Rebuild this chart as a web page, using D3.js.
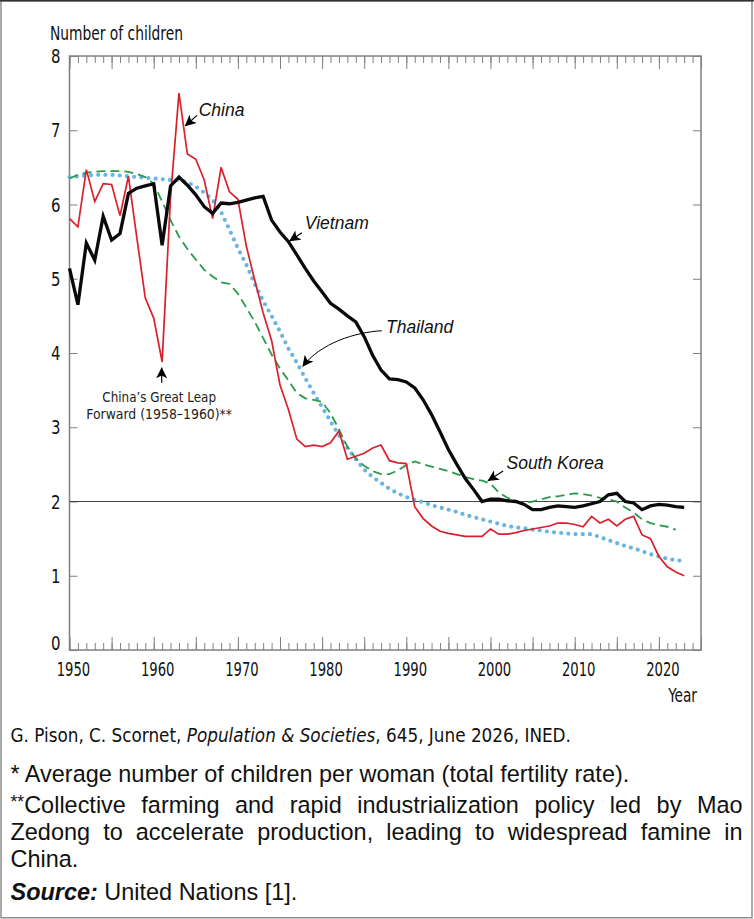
<!DOCTYPE html>
<html><head><meta charset="utf-8">
<script src="https://cdn.jsdelivr.net/npm/d3@7"></script>
<style>body{margin:0;background:#fff}svg{display:block}</style>
</head><body>
<svg id="c" width="754" height="919"></svg>
<script>
// ---- data ----
const years = d3.range(1950, 2024);            // 1950–2023
const yearsKorea = d3.range(1950, 2023);       // 1950–2022
const china = [5.81,5.70,6.47,6.04,6.28,6.27,5.85,6.38,5.55,4.74,
  4.47,3.88,6.10,7.50,6.68,6.61,6.33,5.81,6.50,6.17,
  6.07,5.44,4.98,4.54,4.17,3.57,3.24,2.84,2.74,2.76,
  2.74,2.79,2.95,2.57,2.61,2.65,2.72,2.76,2.55,2.52,
  2.51,1.93,1.77,1.67,1.60,1.57,1.55,1.53,1.53,1.53,
  1.63,1.56,1.56,1.58,1.61,1.63,1.65,1.67,1.71,1.71,
  1.69,1.66,1.80,1.71,1.76,1.67,1.76,1.80,1.55,1.50,
  1.26,1.12,1.05,1.00];
const vietnam = [5.14,4.65,5.48,5.25,5.84,5.52,5.61,6.15,6.22,6.25,
  6.28,5.45,6.25,6.37,6.26,6.13,5.97,5.88,6.02,6.01,
  6.03,6.06,6.09,6.11,5.79,5.63,5.50,5.32,5.14,4.97,
  4.82,4.67,4.59,4.50,4.42,4.22,3.97,3.77,3.65,3.64,
  3.61,3.53,3.37,3.17,2.94,2.70,2.50,2.31,2.16,2.00,
  2.03,2.03,2.01,2.00,1.96,1.89,1.89,1.92,1.94,1.93,
  1.92,1.94,1.97,2.00,2.09,2.11,2.00,1.98,1.89,1.94,
  1.96,1.95,1.93,1.92];
const thailand = [6.37,6.38,6.39,6.40,6.40,6.40,6.39,6.38,6.37,6.36,
  6.35,6.34,6.33,6.33,6.30,6.24,6.16,6.06,5.90,5.66,
  5.41,5.19,4.93,4.70,4.50,4.29,4.06,3.87,3.66,3.46,
  3.27,3.08,2.89,2.72,2.57,2.43,2.33,2.25,2.17,2.11,
  2.06,2.02,1.99,1.95,1.92,1.89,1.86,1.82,1.79,1.76,
  1.73,1.70,1.67,1.65,1.64,1.62,1.61,1.59,1.58,1.57,
  1.56,1.56,1.56,1.52,1.48,1.44,1.40,1.37,1.33,1.29,
  1.26,1.23,1.21,1.20];
const southKorea = [6.35,6.40,6.43,6.44,6.45,6.45,6.45,6.44,6.41,6.37,
  6.28,6.04,5.79,5.57,5.40,5.26,5.12,5.03,4.95,4.93,
  4.80,4.61,4.42,4.20,3.98,3.79,3.63,3.46,3.39,3.37,
  3.34,3.19,2.97,2.74,2.58,2.48,2.41,2.37,2.37,2.42,
  2.49,2.54,2.50,2.47,2.44,2.41,2.37,2.33,2.30,2.28,
  2.24,2.12,2.05,2.01,1.98,2.00,2.03,2.06,2.07,2.09,
  2.11,2.10,2.08,2.05,2.03,2.00,1.92,1.85,1.76,1.71,
  1.68,1.66,1.62];
const yTicks = [0,1,2,3,4,5,6,7,8];
const xLabels = [1950,1960,1970,1980,1990,2000,2010,2020];
const replacementLevel = 2;

// ---- setup ----
const svg = d3.select('#c');
const x = d3.scaleLinear().domain([1950, 2025]).range([69.5, 701]);
const y = d3.scaleLinear().domain([0, 8]).range([650, 56]);
const axisColor = '#808080';
const condensed = "'Liberation Sans Narrow','DejaVu Sans Condensed',sans-serif";
const sans = "'Liberation Sans','Noto Sans',sans-serif";

// horizontally compress a text element to a target width around an origin x
function squeeze(sel, target, ox) {
  const w = sel.node().getBBox().width;
  const k = target / w;
  sel.attr('transform', `translate(${ox},0) scale(${k},1) translate(${-ox},0)`);
}

// outer frame
svg.append('rect').attr('x', 1).attr('y', 0.75).attr('width', 751).attr('height', 917)
  .attr('fill', 'none').attr('stroke', '#8e8e8e').attr('stroke-width', 1.5);
svg.append('line').attr('x1', 0).attr('x2', 754).attr('y1', 0.75).attr('y2', 0.75)
  .attr('stroke', '#333').attr('stroke-width', 1.5);

// markers
const defs = svg.append('defs');
defs.append('marker').attr('id', 'ah').attr('viewBox', '0 0 10 10')
  .attr('refX', 9.5).attr('refY', 5).attr('markerUnits', 'userSpaceOnUse')
  .attr('markerWidth', 14).attr('markerHeight', 11).attr('orient', 'auto')
  .append('path').attr('d', 'M0,0 L10,5 L0,10 L2.5,5 Z').attr('fill', '#000');

// axes / ticks
const minorYears = d3.range(1950, 2026);
const majorYears = minorYears.filter(v => v % 5 === 0);
function clean(g) {
  g.select('.domain').remove();
  g.selectAll('.tick text').remove();
  g.selectAll('.tick line').attr('stroke', axisColor).attr('stroke-width', 1);
}
svg.append('g').attr('transform', `translate(0,${y(0)})`)
  .call(d3.axisTop(x).tickValues(minorYears).tickSize(7)).call(clean);
svg.append('g').attr('transform', `translate(0,${y(0)})`)
  .call(d3.axisTop(x).tickValues(majorYears).tickSize(13)).call(clean);
svg.append('g').attr('transform', `translate(0,${y(8)})`)
  .call(d3.axisBottom(x).tickValues(minorYears).tickSize(7)).call(clean);
svg.append('g').attr('transform', `translate(0,${y(8)})`)
  .call(d3.axisBottom(x).tickValues(majorYears).tickSize(13)).call(clean);
svg.append('g').attr('transform', `translate(${x(1950)},0)`)
  .call(d3.axisRight(y).tickValues(yTicks).tickSize(8)).call(clean);
svg.append('g').attr('transform', `translate(${x(2025)},0)`)
  .call(d3.axisLeft(y).tickValues(yTicks).tickSize(8)).call(clean);

// plot frame
svg.append('rect').attr('x', x(1950)).attr('y', y(8))
  .attr('width', x(2025) - x(1950)).attr('height', y(0) - y(8))
  .attr('fill', 'none').attr('stroke', axisColor).attr('stroke-width', 1.5);

// tick labels
svg.append('g').selectAll('text').data(yTicks).join('text')
  .attr('x', x(1950) - 9).attr('y', d => y(d))
  .attr('dy', d => d === 0 ? '0em' : '0.36em')
  .attr('text-anchor', 'end').attr('font-family', condensed).attr('font-size', 20)
  .attr('fill', '#111').text(d => d)
  .each(function () { squeeze(d3.select(this), 9.5, x(1950) - 9); });
svg.append('g').selectAll('text').data(xLabels).join('text')
  .attr('x', d => x(d) + 4).attr('y', y(0) + 26.5)
  .attr('text-anchor', 'middle').attr('font-family', condensed).attr('font-size', 20)
  .attr('fill', '#111').text(d => d)
  .each(function (d) { squeeze(d3.select(this), 33.5, x(d) + 4); });
const yearLbl = svg.append('text').attr('x', 697).attr('y', 702).attr('text-anchor', 'end')
  .attr('font-family', condensed).attr('font-size', 20).attr('fill', '#111').text('Year');
squeeze(yearLbl, 30, 697);
const yLbl = svg.append('text').attr('x', 50).attr('y', 40)
  .attr('font-family', condensed).attr('font-size', 19.5).attr('fill', '#111').text('Number of children');
squeeze(yLbl, 133, 50);

// replacement line
svg.append('line').attr('x1', x(1950)).attr('x2', x(2025))
  .attr('y1', y(replacementLevel)).attr('y2', y(replacementLevel))
  .attr('stroke', '#444').attr('stroke-width', 1.2);

// series
const line = (yrs) => d3.line().x((d, i) => x(yrs[i])).y(d => y(d));
svg.append('path').datum(thailand).attr('d', line(years))
  .attr('fill', 'none').attr('stroke', '#6ab4e2').attr('stroke-width', 4.2)
  .attr('stroke-linecap', 'round').attr('stroke-dasharray', '0 7.2');
svg.append('path').datum(southKorea).attr('d', line(yearsKorea))
  .attr('fill', 'none').attr('stroke', '#2b9a4a').attr('stroke-width', 1.8)
  .attr('stroke-dasharray', '9 5');
svg.append('path').datum(china).attr('d', line(years))
  .attr('fill', 'none').attr('stroke', '#d9202b').attr('stroke-width', 1.7)
  .attr('stroke-linejoin', 'miter');
svg.append('path').datum(vietnam).attr('d', line(years))
  .attr('fill', 'none').attr('stroke', '#0a0a0a').attr('stroke-width', 3.3)
  .attr('stroke-linejoin', 'miter');

// annotations
const ann = svg.append('g');
function label(txt, yr, v) {
  ann.append('text').attr('x', x(yr)).attr('y', y(v))
    .attr('font-family', sans).attr('font-style', 'italic').attr('font-size', 17.5)
    .attr('fill', '#111').text(txt);
}
function arrow(y1, v1, y2, v2) {
  ann.append('line').attr('x1', x(y1)).attr('y1', y(v1)).attr('x2', x(y2)).attr('y2', y(v2))
    .attr('stroke', '#000').attr('stroke-width', 1.2).attr('marker-end', 'url(#ah)');
}
label('China', 1965.35, 7.19);
arrow(1965.15, 7.20, 1963.75, 7.06);
label('Vietnam', 1977.95, 5.67);
arrow(1977.6, 5.62, 1976.15, 5.51);
label('Thailand', 1987.6, 4.27);
ann.append('path')
  .attr('d', `M${x(1987.1)},${y(4.30)} C${x(1983.9)},${y(4.28)} ${x(1979.8)},${y(4.13)} ${x(1977.7)},${y(3.82)}`)
  .attr('fill', 'none').attr('stroke', '#000').attr('stroke-width', 1).attr('marker-end', 'url(#ah)');
label('South Korea', 2001.9, 2.44);
arrow(2001.5, 2.41, 1999.7, 2.28);
arrow(1960.95, 3.60, 1960.95, 3.80);
const gl1 = ann.append('text').attr('x', x(1960.65)).attr('y', y(3.335)).attr('text-anchor', 'middle')
  .attr('font-family', condensed).attr('font-size', 13.6).attr('fill', '#222').text('China’s Great Leap');
squeeze(gl1, 114, x(1960.65));
const gl2 = ann.append('text').attr('x', x(1960.65)).attr('y', y(3.105)).attr('text-anchor', 'middle')
  .attr('font-family', condensed).attr('font-size', 13.6).attr('fill', '#222').text('Forward (1958–1960)**');
squeeze(gl2, 146, x(1960.65));

// footer
const foot = svg.append('g').attr('fill', '#111');
function fit(sel, target) {
  const fs = parseFloat(sel.attr('font-size'));
  const w = sel.node().getComputedTextLength();
  sel.attr('font-size', (fs * target / w).toFixed(2));
}
const l1 = foot.append('text').attr('x', 10.5).attr('y', 742)
  .attr('font-family', condensed).attr('font-size', 20);
l1.append('tspan').text('G. Pison, C. Scornet, ');
l1.append('tspan').attr('font-style', 'italic').text('Population & Societies');
l1.append('tspan').text(', 645, June 2026, INED.');
squeeze(l1, 561, 10.5);

const l2 = foot.append('text').attr('x', 10.5).attr('y', 782)
  .attr('font-family', sans).attr('font-size', 19)
  .text('* Average number of children per woman (total fertility rate).');
fit(l2, 619);
const bodySize = parseFloat(l2.attr('font-size'));

function justify(words, yPos, x0, x1) {
  const nodes = words.map((w, i) => {
    const t = foot.append('text').attr('y', yPos).attr('font-family', sans).attr('font-size', bodySize);
    if (i === 0 && w.startsWith('**')) {
      t.append('tspan').attr('font-size', bodySize * 0.75).attr('dy', -5).text('**');
      t.append('tspan').attr('dy', 5).text(w.slice(2));
    } else t.text(w);
    return t;
  });
  const widths = nodes.map(n => n.node().getComputedTextLength());
  const gap = (x1 - x0 - d3.sum(widths)) / (nodes.length - 1);
  let cx = x0;
  nodes.forEach((n, i) => { n.attr('x', cx); cx += widths[i] + gap; });
}
justify('**Collective farming and rapid industrialization policy led by Mao'.split(' '), 813, 10.5, 742.5);
justify('Zedong to accelerate production, leading to widespread famine in'.split(' '), 840, 10.5, 742.5);
foot.append('text').attr('x', 10.5).attr('y', 867).attr('font-family', sans)
  .attr('font-size', bodySize).text('China.');
const l6 = foot.append('text').attr('x', 10.5).attr('y', 900).attr('font-family', sans)
  .attr('font-size', bodySize);
l6.append('tspan').attr('font-weight', 'bold').attr('font-style', 'italic').text('Source:');
l6.append('tspan').text(' United Nations [1].');
</script>
</body></html>
